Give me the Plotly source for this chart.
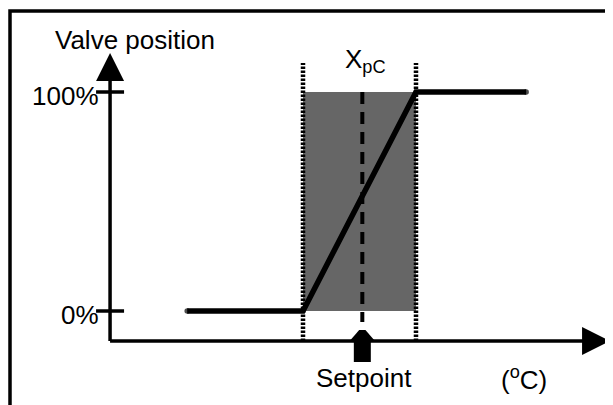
import plotly.graph_objects as go

# valve characteristic (temperature in degC, valve position in %)
temp_curve = [13.9, 18.0, 22.0, 25.9]
valve_curve = [0, 0, 100, 100]

setpoint = 20.1
band_low = 18.0    # start of proportional band Xp
band_high = 22.0   # end of proportional band Xp

axis_x0 = 11.17    # where the valve axis crosses the temperature axis
axis_y0 = -13.7
axis_x_end = 28.87
axis_y_end = 117.8

tick_values = [0, 100]
tick_labels = ["0%", "100%"]

# the page body has an 8px margin, shift the ranges to make up for it
off = 8
fig = go.Figure()

# grey proportional band
fig.add_trace(go.Scatter(
    x=[band_low, band_high, band_high, band_low],
    y=[valve_curve[0], valve_curve[0], valve_curve[-1], valve_curve[-1]],
    fill='toself', fillcolor='#666666', mode='none'))

# dotted band limits
for xb in [band_low, band_high]:
    fig.add_trace(go.Scatter(
        x=[xb, xb], y=[axis_y0, 113.2], mode='lines',
        line=dict(color='black', width=4.5, dash='2.5px,1.5px')))

# dashed setpoint line
fig.add_trace(go.Scatter(
    x=[setpoint, setpoint], y=[100, -5], mode='lines',
    line=dict(color='black', width=4, dash='12px,8px')))

# valve position curve
fig.add_trace(go.Scatter(
    x=temp_curve, y=valve_curve, mode='lines+markers',
    line=dict(color='black', width=5.5),
    marker=dict(color='black', size=[5.5, 0, 0, 5.5], line=dict(width=0))))

# axes
fig.add_trace(go.Scatter(
    x=[axis_x0, axis_x0], y=[axis_y0, axis_y_end - 12], mode='lines',
    line=dict(color='black', width=3.5)))
fig.add_trace(go.Scatter(
    x=[axis_x0, axis_x_end - 0.9], y=[axis_y0, axis_y0], mode='lines',
    line=dict(color='black', width=3.5)))
fig.add_trace(go.Scatter(
    x=[axis_x0], y=[axis_y_end], mode='markers',
    marker=dict(symbol='arrow-up', size=28, color='black')))
fig.add_trace(go.Scatter(
    x=[axis_x_end], y=[axis_y0], mode='markers',
    marker=dict(symbol='arrow-right', size=28, color='black')))

# ticks at 0% and 100%
fig.add_trace(go.Scatter(
    x=[axis_x0] * len(tick_values), y=tick_values, mode='markers',
    marker=dict(symbol='line-ew', size=20, line=dict(color='black', width=3.5))))

# setpoint arrow: thick stem + head
fig.add_trace(go.Scatter(
    x=[setpoint, setpoint], y=[-23.3, -13.8], mode='lines',
    line=dict(color='black', width=17)))
head_w, head_top = 0.48, 0.11
fig.add_trace(go.Scatter(
    x=[setpoint - head_w, setpoint + head_w, setpoint + head_top, setpoint - head_top],
    y=[-14.2, -14.2, -8.7, -8.7],
    fill='toself', fillcolor='black', mode='none'))

font = dict(family='Liberation Sans, Arial, sans-serif', size=26, color='black')

for v, lab in zip(tick_values, tick_labels):
    fig.add_annotation(x=10.85, y=v, text=lab, showarrow=False,
                       xanchor='right', yanchor='middle', yshift=-4, font=font)

fig.add_annotation(x=12.04, y=123.7, text="Valve position", showarrow=False, font=font)
fig.add_annotation(x=20.23, y=114.6, text="X<sub>pC</sub>", showarrow=False, font=font)
fig.add_annotation(x=20.16, y=-30.6, text="Setpoint", showarrow=False, font=font)
fig.add_annotation(x=25.82, y=-30.6, text="(<sup>o</sup>C)", showarrow=False, font=font)

# frame
fig.add_shape(type='rect', xref='paper', yref='paper',
              x0=(10 - off) / 613, x1=1.02, y0=-0.05, y1=1 - (11 - off) / 405,
              line=dict(color='black', width=3.5))

fig.update_layout(
    width=613, height=405,
    margin=dict(l=0, r=0, t=0, b=0),
    paper_bgcolor='white', plot_bgcolor='white',
    showlegend=False,
    xaxis=dict(range=[7.274 + off / 28.25, 28.974 + off / 28.25],
               visible=False, fixedrange=True),
    yaxis=dict(range=[-42.92 - off / 2.19, 142.01 - off / 2.19],
               visible=False, fixedrange=True),
)

fig.write_html("out.html")
